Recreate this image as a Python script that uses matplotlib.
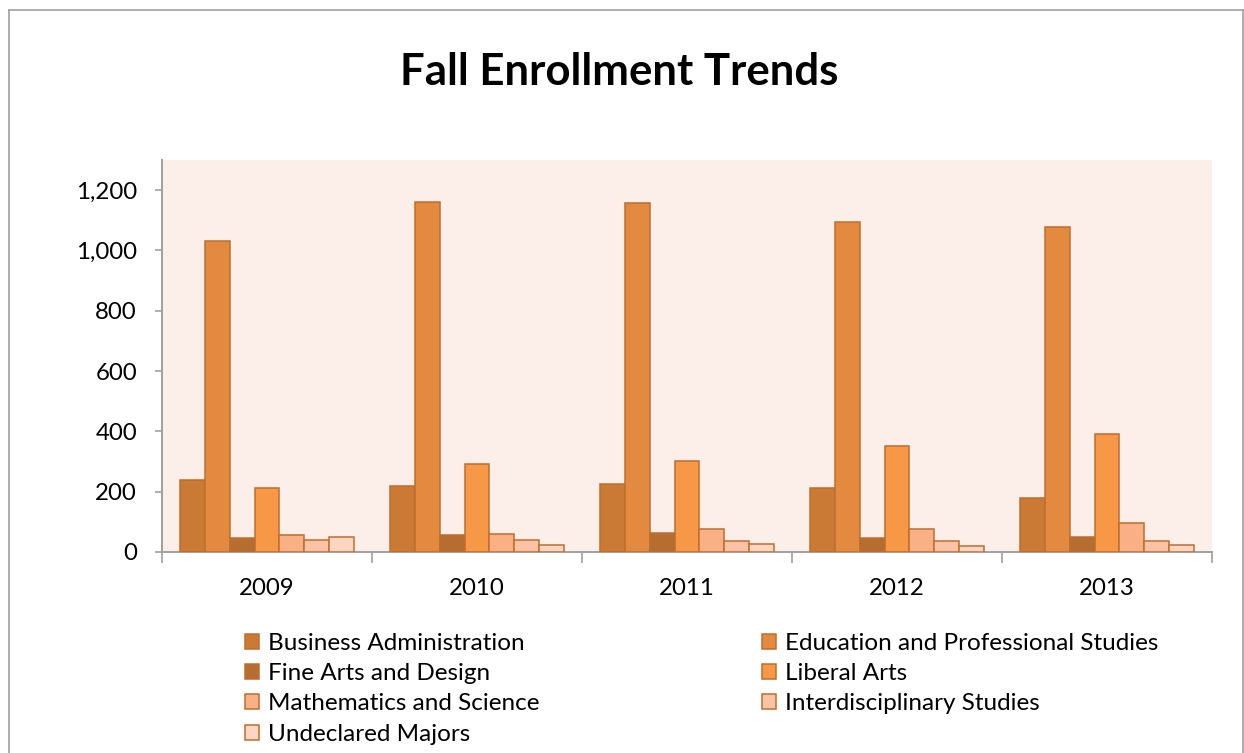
import matplotlib
matplotlib.use("Agg")
import matplotlib.pyplot as plt
from matplotlib.lines import Line2D
from matplotlib.ticker import FuncFormatter, FixedLocator
import numpy as np

years = ["2009", "2010", "2011", "2012", "2013"]

business = [240, 220, 224, 213, 179]
education = [1032, 1160, 1158, 1094, 1077]
fine_arts = [47, 57, 63, 46, 51]
liberal_arts = [211, 292, 302, 352, 390]
math_science = [55, 60, 75, 75, 95]
interdisciplinary = [39, 39, 36, 36, 35]
undeclared = [51, 23, 25, 21, 23]

names = ["Business Administration", "Education and Professional Studies",
         "Fine Arts and Design", "Liberal Arts", "Mathematics and Science",
         "Interdisciplinary Studies", "Undeclared Majors"]
series = [business, education, fine_arts, liberal_arts, math_science,
          interdisciplinary, undeclared]
colors = ["#CB7A36", "#E48A40", "#B66D30", "#F79846", "#F9B084",
          "#FBC3A5", "#FCD5C3"]
edge = "#BE6E2E"

plt.rcParams['font.family'] = ['Lato', 'DejaVu Sans']

fig = plt.figure(figsize=(12.44, 7.53), dpi=100)
ax = fig.add_axes([162 / 1244, 1 - 552 / 753, 1050 / 1244, 392 / 753])
ax.set_facecolor("#FCEEE8")

x = np.arange(len(years))
w = 0.119
handles = []
for i, (vals, c, n) in enumerate(zip(series, colors, names)):
    b = ax.bar(x - 3 * w + i * w, vals, width=w, color=c, edgecolor=edge,
               linewidth=1.1, label=n, zorder=3)
    handles.append(b)

ax.set_xlim(-0.5, 4.5)
ax.set_ylim(0, 1300)
ax.yaxis.set_major_locator(FixedLocator([0, 200, 400, 600, 800, 1000, 1200]))
ax.yaxis.set_major_formatter(FuncFormatter(lambda v, p: f"{int(v):,}"))
ax.set_xticks(x)
ax.set_xticklabels(years)
ax.set_xticks(np.arange(-0.5, 5, 1), minor=True)
ax.tick_params(axis="x", which="major", length=0, pad=19, labelsize=17.3)
ax.tick_params(axis="x", which="minor", length=8, width=1.2, color="#A0A0A0")
ax.tick_params(axis="y", length=5, width=1.2, color="#A0A0A0", labelsize=17.3, pad=13)

for s in ["top", "right"]:
    ax.spines[s].set_visible(False)
for s in ["left", "bottom"]:
    ax.spines[s].set_color("#A0A0A0")
    ax.spines[s].set_linewidth(1.4)

fig.text(0.4975, 1 - 72 / 753, "Fall Enrollment Trends", ha="center", va="center",
         fontsize=31.5, fontweight="bold")

# outer chart frame
W, H = 1244, 753
fig.add_artist(Line2D([8.5 / W, 8.5 / W], [0, 1 - 10 / H], color="#A0A0A0", lw=1.2))
fig.add_artist(Line2D([8.5 / W, 1243 / W], [1 - 10 / H, 1 - 10 / H], color="#A0A0A0", lw=1.2))
fig.add_artist(Line2D([1243 / W, 1243 / W], [0, 1 - 10 / H], color="#A0A0A0", lw=1.2))

order1 = [0, 2, 4, 6]
order2 = [1, 3, 5]
common = dict(frameon=False, fontsize=17.5, handlelength=0.58, handleheight=0.58,
              handletextpad=0.38, labelspacing=0.38, borderaxespad=0, borderpad=0)
leg1 = fig.legend([handles[i] for i in order1], [names[i] for i in order1],
                  loc="upper left", bbox_to_anchor=(245 / W, 1 - 633 / H), **common)
leg2 = fig.legend([handles[i] for i in order2], [names[i] for i in order2],
                  loc="upper left", bbox_to_anchor=(762 / W, 1 - 633 / H), **common)

fig.savefig("out.png", dpi=100)
